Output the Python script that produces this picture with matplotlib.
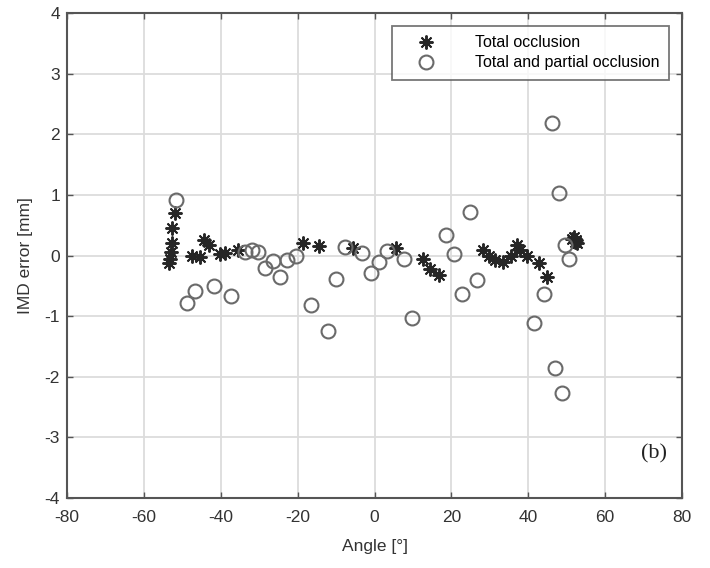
import matplotlib
matplotlib.use("Agg")
import matplotlib.pyplot as plt

# Total occlusion (stars)
tot_x = [-52.0, -52.6, -52.8, -53.0, -53.2, -53.5, -47.6, -45.4, -44.3, -43.0,
         -40.2, -38.8, -35.5, -18.7, -14.4, -5.5, 5.5, 12.5, 14.5, 16.8,
         28.3, 29.9, 31.4, 33.5, 35.5, 37.2, 37.9, 39.8, 42.7, 45.0,
         51.5, 52.0, 52.5, 52.8, 52.2]
tot_y = [0.70, 0.45, 0.20, 0.06, -0.05, -0.13, -0.01, -0.03, 0.26, 0.17,
         0.02, 0.04, 0.09, 0.21, 0.16, 0.12, 0.12, -0.05, -0.23, -0.32,
         0.09, -0.01, -0.07, -0.10, -0.01, 0.17, 0.09, -0.01, -0.13, -0.35,
         0.28, 0.31, 0.25, 0.20, 0.22]

# Total and partial occlusion (circles)
part_x = [-51.7, -48.9, -46.7, -41.8, -37.4, -33.7, -32.0, -30.3, -28.5, -26.5,
          -24.6, -22.7, -20.4, -16.5, -12.0, -10.0, -7.7, -3.3, -1.0, 1.25,
          3.3, 7.7, 9.8, 18.6, 20.7, 22.7, 24.9, 26.6, 41.4, 44.0,
          46.3, 47.0, 48.1, 48.9, 49.6, 50.5]
part_y = [0.92, -0.79, -0.59, -0.50, -0.67, 0.06, 0.09, 0.06, -0.21, -0.09,
          -0.35, -0.07, -0.01, -0.81, -1.25, -0.39, 0.14, 0.04, -0.29, -0.10,
          0.07, -0.06, -1.03, 0.33, 0.02, -0.64, 0.72, -0.40, -1.12, -0.64,
          2.18, -1.86, 1.03, -2.26, 0.17, -0.06]

xticks = [-80, -60, -40, -20, 0, 20, 40, 60, 80]
yticks = [-4, -3, -2, -1, 0, 1, 2, 3, 4]

plt.rcParams['font.family'] = ['Liberation Sans', 'DejaVu Sans']
plt.rcParams['axes.unicode_minus'] = False

fig = plt.figure(figsize=(7.1, 5.68), dpi=100)
ax = fig.add_axes([67/710, 1-498/568, 615/710, 485/568])

ax.plot(tot_x, tot_y, linestyle='none', marker=(8, 2, 0), markersize=10,
        color='#262626', markeredgewidth=1.4, label='Total occlusion', zorder=3)
ax.plot(part_x, part_y, linestyle='none', marker='o', markersize=10,
        markerfacecolor='none', markeredgecolor='#6a6a6a', markeredgewidth=1.5,
        label='Total and partial occlusion', zorder=3)

ax.set_xlim(-80, 80)
ax.set_ylim(-4, 4)
ax.set_xticks(xticks)
ax.set_yticks(yticks)
ax.grid(True, color='#dcdcdc', linewidth=1.3)
ax.set_axisbelow(True)
ax.tick_params(direction='in', top=True, right=True, length=4, width=1,
               colors='#555555', labelsize=12.5, labelcolor='#333333')
ax.tick_params(axis='x', pad=9)
ax.tick_params(axis='y', pad=5)
for s in ax.spines.values():
    s.set_color('#555555')
    s.set_linewidth(1.5)

ax.set_xlabel('Angle [°]', fontsize=12.5, color='#333333', labelpad=10)
ax.set_ylabel('IMD error [mm]', fontsize=12.5, color='#333333', labelpad=8)

leg = ax.legend(loc='upper right', fontsize=11.5, frameon=True, fancybox=False,
                edgecolor='#555555', borderpad=0.6, handletextpad=1.6,
                handlelength=3.0, borderaxespad=0.8, labelspacing=0.3)
leg.get_frame().set_linewidth(1.3)

ax.text(0.975, 0.09, '(b)', transform=ax.transAxes, ha='right', va='center',
        fontsize=16, family='Liberation Serif', color='#222222')

fig.savefig('out.png', dpi=100)
